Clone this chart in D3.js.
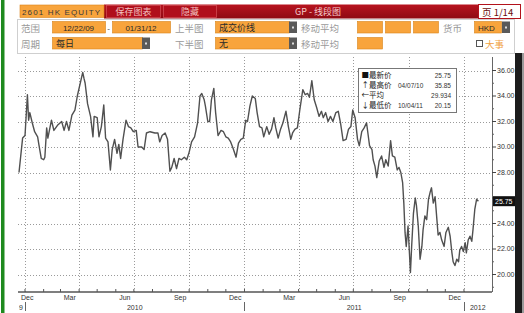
<!DOCTYPE html>
<html>
<head>
<meta charset="utf-8">
<script src="https://cdn.jsdelivr.net/npm/d3@7"></script>
<style>
  html, body { margin: 0; padding: 0; background: #fff; }
  svg { display: block; }
</style>
</head>
<body>
<svg id="chart" width="524" height="313"></svg>
<script>
// daily close (mm/dd/yy, HKD)
const closes = [
  ["12/22/09",28.0],["12/28/09",30.7],["01/01/10",30.9],["01/05/10",34.1],["01/07/10",32.1],
  ["01/09/10",32.7],["01/13/10",31.9],["01/17/10",31.2],["01/22/10",30.8],["01/24/10",30.2],
  ["01/28/10",29.1],["02/01/10",29.0],["02/03/10",29.2],["02/06/10",31.5],["02/08/10",30.7],
  ["02/14/10",32.1],["02/18/10",31.3],["02/24/10",31.7],["03/03/10",32.0],["03/07/10",31.3],
  ["03/11/10",32.0],["03/15/10",31.3],["03/20/10",32.5],["03/25/10",32.9],["03/29/10",34.0],
  ["04/07/10",35.85],["04/09/10",35.4],["04/11/10",35.0],["04/15/10",33.4],["04/20/10",32.4],
  ["04/24/10",30.8],["04/26/10",32.4],["05/01/10",32.3],["05/04/10",30.8],["05/08/10",31.6],
  ["05/12/10",33.3],["05/15/10",30.7],["05/19/10",30.4],["05/23/10",28.2],["05/26/10",29.8],
  ["05/30/10",30.6],["06/03/10",29.5],["06/06/10",30.2],["06/09/10",29.1],["06/13/10",30.6],
  ["06/18/10",32.1],["06/22/10",31.6],["06/26/10",31.5],["06/30/10",31.2],["07/05/10",31.3],
  ["07/08/10",30.0],["07/14/10",30.0],["07/18/10",29.8],["07/22/10",31.1],["07/28/10",31.2],
  ["08/05/10",31.1],["08/10/10",31.1],["08/13/10",30.4],["08/17/10",30.9],["08/22/10",31.1],
  ["08/26/10",30.6],["08/30/10",28.1],["09/02/10",28.4],["09/06/10",29.1],["09/10/10",28.3],
  ["09/14/10",29.1],["09/18/10",29.0],["09/23/10",29.2],["09/27/10",29.0],["10/01/10",29.6],
  ["10/05/10",30.4],["10/10/10",30.8],["10/15/10",31.9],["10/19/10",34.0],["10/22/10",34.2],
  ["10/26/10",33.7],["10/28/10",33.2],["11/01/10",32.0],["11/04/10",32.0],["11/07/10",33.7],
  ["11/11/10",34.6],["11/14/10",32.7],["11/18/10",30.9],["11/23/10",31.3],["11/27/10",31.2],
  ["12/01/10",30.8],["12/05/10",30.7],["12/09/10",30.4],["12/13/10",29.9],["12/18/10",29.2],
  ["12/22/10",30.3],["12/26/10",30.6],["12/30/10",30.7],["01/03/11",32.1],["01/06/11",32.0],
  ["01/10/11",33.2],["01/14/11",34.0],["01/19/11",33.8],["01/22/11",32.7],["01/26/11",31.6],
  ["01/30/11",31.5],["02/02/11",30.8],["02/07/11",31.6],["02/11/11",31.0],["02/15/11",31.4],
  ["02/19/11",32.3],["02/22/11",31.5],["02/26/11",30.7],["03/02/11",31.4],["03/06/11",31.9],
  ["03/11/11",32.8],["03/15/11",31.6],["03/19/11",30.6],["03/22/11",31.1],["03/26/11",31.4],
  ["03/30/11",31.5],["04/03/11",32.9],["04/08/11",34.5],["04/12/11",34.1],["04/16/11",34.2],
  ["04/19/11",33.9],["04/23/11",35.2],["04/27/11",33.7],["05/01/11",33.1],["05/05/11",32.4],
  ["05/09/11",32.8],["05/12/11",32.3],["05/16/11",32.7],["05/20/11",32.0],["05/24/11",32.4],
  ["05/28/11",32.0],["06/02/11",32.7],["06/06/11",32.8],["06/10/11",31.8],["06/14/11",30.5],
  ["06/19/11",30.6],["06/23/11",31.4],["06/27/11",31.6],["06/30/11",32.9],["07/04/11",32.3],
  ["07/08/11",30.6],["07/11/11",30.1],["07/15/11",31.2],["07/19/11",31.5],["07/23/11",31.9],
  ["07/28/11",30.1],["08/01/11",29.8],["08/03/11",29.0],["08/06/11",28.5],["08/09/11",27.6],
  ["08/13/11",28.9],["08/17/11",29.3],["08/21/11",28.4],["08/24/11",29.0],["08/28/11",28.5],
  ["09/01/11",30.5],["09/04/11",29.3],["09/08/11",29.2],["09/12/11",28.2],["09/15/11",28.4],
  ["09/18/11",28.0],["09/21/11",27.2],["09/23/11",25.6],["09/25/11",23.3],["09/27/11",22.2],
  ["09/30/11",23.8],["10/04/11",20.15],["10/06/11",22.2],["10/09/11",24.8],["10/12/11",26.0],
  ["10/14/11",25.4],["10/17/11",23.8],["10/20/11",21.2],["10/23/11",22.2],["10/25/11",23.5],
  ["10/28/11",24.6],["10/31/11",24.3],["11/03/11",25.9],["11/06/11",26.5],["11/08/11",26.8],
  ["11/11/11",25.6],["11/14/11",26.1],["11/17/11",24.3],["11/19/11",23.1],["11/22/11",23.3],
  ["11/25/11",22.7],["11/29/11",22.2],["12/02/11",23.3],["12/06/11",23.7],["12/09/11",23.0],
  ["12/12/11",21.7],["12/14/11",21.0],["12/17/11",20.7],["12/20/11",21.2],["12/23/11",21.0],
  ["12/25/11",21.9],["12/28/11",22.2],["12/31/11",21.8],["01/03/12",22.5],["01/05/12",21.7],
  ["01/08/12",22.7],["01/11/12",23.0],["01/14/12",22.6],["01/16/12",23.5],["01/19/12",25.1],
  ["01/22/12",25.9],["01/25/12",25.75]
];

const rangeStart = "12/22/09";
const rangeEnd = "01/31/12";
const priceTicks = [20, 22, 24, 26, 28, 30, 32, 34, 36];
const lastPrice = 25.75;
const labelMonths = [11, 2, 5, 8];   // Dec Mar Jun Sep
const years = [2009, 2010, 2011, 2012];

const legendRows = [
  { sym: "■", name: "最新价", date: "", val: "25.75" },
  { sym: "↑", name: "最高价", date: "04/07/10", val: "35.85" },
  { sym: "←", name: "平均", date: "", val: "29.934" },
  { sym: "↓", name: "最低价", date: "10/04/11", val: "20.15" }
];

const parse = d3.timeParse("%m/%d/%y");
const data = closes.map(d => ({ date: parse(d[0]), v: d[1] }));
const t0 = parse(rangeStart), t1 = parse(rangeEnd);

const CJK = '"Noto Sans CJK SC", sans-serif';
const LAT = '"Liberation Sans", Arial, sans-serif';
const ORANGE = '#f8a43c';

const svg = d3.select('#chart');

// ---------- frame bits ----------
svg.append('rect').attr('x', 1).attr('y', 0).attr('width', 3.5).attr('height', 313).attr('fill', '#1f8a1f');
svg.append('rect').attr('x', 515).attr('y', 53).attr('width', 7).attr('height', 260).attr('fill', '#1c1c1c');
svg.append('rect').attr('x', 522).attr('y', 53).attr('width', 2).attr('height', 260).attr('fill', '#9a9a9a');

// ---------- header ----------
const defs = svg.append('defs');
const grad = defs.append('linearGradient').attr('id', 'redbar').attr('x1', 0).attr('y1', 0).attr('x2', 0).attr('y2', 1);
grad.append('stop').attr('offset', '0%').attr('stop-color', '#b8141f');
grad.append('stop').attr('offset', '100%').attr('stop-color', '#8e0a12');

const hdr = svg.append('g');

hdr.append('rect').attr('x', 104).attr('y', 4.5).attr('width', 374).attr('height', 14).attr('fill', 'url(#redbar)');
hdr.append('rect').attr('x', 106.5).attr('y', 5.5).attr('width', 54).attr('height', 12)
  .attr('fill', '#b00f1b').attr('stroke', '#d04a52').attr('stroke-width', 0.8);
hdr.append('rect').attr('x', 163.5).attr('y', 5.5).attr('width', 53).attr('height', 12)
  .attr('fill', '#b00f1b').attr('stroke', '#d04a52').attr('stroke-width', 0.8);
hdr.append('text').attr('x', 133.5).attr('y', 15).attr('text-anchor', 'middle')
  .attr('font-family', CJK).attr('font-size', 9).attr('fill', '#f2c0c0').text('保存图表');
hdr.append('text').attr('x', 190).attr('y', 15).attr('text-anchor', 'middle')
  .attr('font-family', CJK).attr('font-size', 9).attr('fill', '#f2c0c0').text('隐藏');
hdr.append('text').attr('x', 318).attr('y', 15).attr('text-anchor', 'middle')
  .attr('font-family', CJK).attr('font-size', 9).attr('fill', '#f5cccc').text('GP - 线段图');

hdr.append('rect').attr('x', 478.5).attr('y', 4.5).attr('width', 42).attr('height', 14)
  .attr('fill', '#fff').attr('stroke', '#b3121c').attr('stroke-width', 1);
hdr.append('text').attr('x', 482).attr('y', 15.5)
  .attr('font-family', CJK).attr('font-size', 9.5).attr('fill', '#6a0d0d').text('页 1/14');

hdr.append('rect').attr('x', 20).attr('y', 5).attr('width', 84).attr('height', 12.5)
  .attr('fill', ORANGE).attr('stroke', '#d98318').attr('stroke-width', 0.6);
hdr.append('text').attr('x', 22).attr('y', 14.5)
  .attr('font-family', LAT).attr('font-size', 8).attr('fill', '#3a3a3a').attr('textLength', 78)
  .text('2601 HK EQUITY');

// options panel
hdr.append('rect').attr('x', 17.5).attr('y', 19.5).attr('width', 497).attr('height', 34)
  .attr('fill', '#fff').attr('stroke', '#cfcfcf').attr('stroke-width', 1);

function field(x, y, w, txt, anchor) {
  hdr.append('rect').attr('x', x + 0.5).attr('y', y + 0.5).attr('width', w).attr('height', 11.5)
    .attr('fill', ORANGE).attr('stroke', '#d98318').attr('stroke-width', 0.6);
  if (txt) {
    const mid = anchor === 'middle';
    const isLatin = /^[0-9A-Z\/ ]+$/.test(txt);
    hdr.append('text').attr('x', mid ? x + w / 2 : x + 4).attr('y', y + 9.5)
      .attr('text-anchor', mid ? 'middle' : 'start')
      .attr('font-family', isLatin ? LAT : CJK).attr('font-size', isLatin ? 8 : 9)
      .attr('fill', '#2a2a2a').text(txt);
  }
}
function dropdown(x, y) {
  hdr.append('rect').attr('x', x).attr('y', y + 0.5).attr('width', 8).attr('height', 11.5).attr('fill', '#5a5a5a');
  hdr.append('rect').attr('x', x + 3).attr('y', y + 5.5).attr('width', 2).attr('height', 2).attr('fill', '#ddd');
}
function label(x, y, txt) {
  hdr.append('text').attr('x', x).attr('y', y).attr('font-family', CJK).attr('font-size', 9.5)
    .attr('fill', '#9a9a9a').text(txt);
}

// row 2
label(21, 31.5, '范围');
field(52, 21, 53, '12/22/09', 'middle');
hdr.append('text').attr('x', 108.5).attr('y', 30.5).attr('text-anchor', 'middle')
  .attr('font-family', LAT).attr('font-size', 8).attr('fill', '#444').text('-');
field(112, 21, 58, '01/31/12', 'middle');
label(175, 31.5, '上半图');
field(215, 21, 74, '成交价线');
dropdown(289, 21);
label(301, 31.5, '移动平均');
field(357, 21, 25, '');
field(385, 21, 25, '');
field(413, 21, 25, '');
label(443, 31.5, '货币');
field(474, 21, 27, 'HKD');
dropdown(502, 21);

// row 3
label(21, 47.5, '周期');
field(52, 37, 90, '每日');
dropdown(142, 37);
label(175, 47.5, '下半图');
field(215, 37, 74, '无');
dropdown(289, 37);
label(301, 47.5, '移动平均');
field(357, 37, 25, '');
hdr.append('rect').attr('x', 476.5).attr('y', 40.5).attr('width', 6).attr('height', 6)
  .attr('fill', '#fff').attr('stroke', '#555').attr('stroke-width', 1);
hdr.append('text').attr('x', 485).attr('y', 47.5).attr('font-family', CJK).attr('font-size', 9.5)
  .attr('fill', '#f0a040').text('大事');

// ---------- plot ----------
const plotL = 18, plotR = 492, plotT = 57, plotB = 292;

const x = d3.scaleTime().domain([t0, t1]).range([19, 482]);
const y = d3.scaleLinear().domain([20, 36]).range([274.5, 70.5]);

const grid = svg.append('g');
grid.selectAll('line.h').data(priceTicks).enter().append('line')
  .attr('x1', plotL).attr('x2', plotR)
  .attr('y1', d => Math.round(y(d)) + 0.5).attr('y2', d => Math.round(y(d)) + 0.5)
  .attr('stroke', '#9a9a9a').attr('stroke-width', 1).attr('stroke-dasharray', '1,2');

const months = d3.timeMonth.range(d3.timeMonth.ceil(t0), t1);
const quarters = months.filter(m => m.getMonth() % 3 === 0);
grid.selectAll('line.v').data(quarters).enter().append('line')
  .attr('x1', d => Math.round(x(d)) + 0.5).attr('x2', d => Math.round(x(d)) + 0.5)
  .attr('y1', plotT).attr('y2', plotB)
  .attr('stroke', '#9a9a9a').attr('stroke-width', 1).attr('stroke-dasharray', '1,2');

// price line
const line = d3.line().x(d => x(d.date)).y(d => y(d.v));
svg.append('path').datum(data).attr('d', line)
  .attr('fill', 'none').attr('stroke', '#505050').attr('stroke-width', 1.4)
  .attr('stroke-linejoin', 'round');

// right axis
const yAxis = svg.append('g').attr('transform', `translate(${plotR},0)`);
yAxis.append('line').attr('x1', 0.5).attr('x2', 0.5).attr('y1', plotT).attr('y2', plotB)
  .attr('stroke', '#666').attr('stroke-width', 1);
const minorTicks = d3.range(19, 37, 1).filter(v => v % 2 === 1);
yAxis.selectAll('line.minor').data(minorTicks).enter().append('line')
  .attr('x1', 0).attr('x2', 2).attr('y1', d => y(d)).attr('y2', d => y(d))
  .attr('stroke', '#666').attr('stroke-width', 1);
yAxis.selectAll('line.major').data(priceTicks).enter().append('line')
  .attr('x1', 0).attr('x2', 4).attr('y1', d => y(d)).attr('y2', d => y(d))
  .attr('stroke', '#444').attr('stroke-width', 1);
// the 26.00 label sits under the last-price flag, so it is not drawn
yAxis.selectAll('text.tick').data(priceTicks.filter(v => Math.abs(y(v) - y(lastPrice)) > 8)).enter().append('text')
  .attr('x', 5).attr('y', d => y(d)).attr('dy', '0.35em')
  .attr('font-family', LAT).attr('font-size', 7).attr('fill', '#333')
  .text(d3.format('.2f'));

// last price flag
yAxis.append('rect').attr('x', 1).attr('y', y(lastPrice) - 5).attr('width', 22).attr('height', 10).attr('fill', '#111');
yAxis.append('text').attr('x', 3).attr('y', y(lastPrice)).attr('dy', '0.35em')
  .attr('font-family', LAT).attr('font-size', 7).attr('fill', '#fff').text(lastPrice.toFixed(2));

// bottom axis
const xAxis = svg.append('g');
xAxis.append('line').attr('x1', plotL).attr('x2', plotR).attr('y1', plotB).attr('y2', plotB)
  .attr('stroke', '#555').attr('stroke-width', 1.6);
xAxis.selectAll('line.mt').data(months).enter().append('line')
  .attr('x1', d => x(d)).attr('x2', d => x(d)).attr('y1', plotB).attr('y2', plotB - 3)
  .attr('stroke', '#555').attr('stroke-width', 1);

const labelled = d3.timeMonth.range(d3.timeMonth.floor(t0), t1)
  .filter(m => labelMonths.includes(m.getMonth()));
xAxis.selectAll('text.m').data(labelled).enter().append('text')
  .attr('x', d => d < t0 ? x(t0) + 2 : (x(d) + x(d3.timeMonth.offset(d, 1))) / 2)
  .attr('text-anchor', d => d < t0 ? 'start' : 'middle')
  .attr('y', 300)
  .attr('font-family', LAT).attr('font-size', 7).attr('fill', '#333')
  .text(d3.timeFormat('%b'));

// years
defs.append('clipPath').attr('id', 'yrclip').append('rect')
  .attr('x', 19).attr('y', 300).attr('width', 500).attr('height', 13);
const yrG = xAxis.append('g').attr('clip-path', 'url(#yrclip)');
const yearBounds = years.slice(1).map(yr => new Date(yr, 0, 1));
yrG.selectAll('line.ys').data(yearBounds).enter().append('line')
  .attr('x1', d => Math.round(x(d)) + 0.5).attr('x2', d => Math.round(x(d)) + 0.5)
  .attr('y1', 302).attr('y2', 311).attr('stroke', '#666').attr('stroke-width', 1);
yrG.selectAll('text.y').data(years).enter().append('text')
  .attr('x', yr => {
    const a = new Date(yr, 0, 1), b = new Date(yr + 1, 0, 1);
    if (a < t0) return x(b) - 2;
    if (b > t1) return x(a) + 6;
    return (x(a) + x(b)) / 2;
  })
  .attr('text-anchor', yr => new Date(yr, 0, 1) < t0 ? 'end' : (new Date(yr + 1, 0, 1) > t1 ? 'start' : 'middle'))
  .attr('y', 310)
  .attr('font-family', LAT).attr('font-size', 7).attr('fill', '#333')
  .text(d => d);

// ---------- legend ----------
const lg = svg.append('g').attr('transform', 'translate(358,68)');
lg.append('rect').attr('x', 0.5).attr('y', 0.5).attr('width', 98).attr('height', 44)
  .attr('fill', '#fff').attr('stroke', '#777').attr('stroke-width', 1);
const rows = lg.selectAll('g.row').data(legendRows).enter().append('g')
  .attr('transform', (d, i) => `translate(0,${9.5 + i * 10})`);
rows.append('text').attr('x', 3.5).attr('y', 0)
  .attr('font-family', CJK).attr('font-size', 7.5).attr('fill', '#111').text(d => d.sym);
rows.append('text').attr('x', 11).attr('y', 0)
  .attr('font-family', CJK).attr('font-size', 7.5).attr('fill', '#222').text(d => d.name);
rows.append('text').attr('x', 40).attr('y', 0)
  .attr('font-family', LAT).attr('font-size', 6.5).attr('fill', '#333').text(d => d.date);
rows.append('text').attr('x', 93).attr('y', 0).attr('text-anchor', 'end')
  .attr('font-family', LAT).attr('font-size', 6.5).attr('fill', '#333').text(d => d.val);
</script>
</body>
</html>
